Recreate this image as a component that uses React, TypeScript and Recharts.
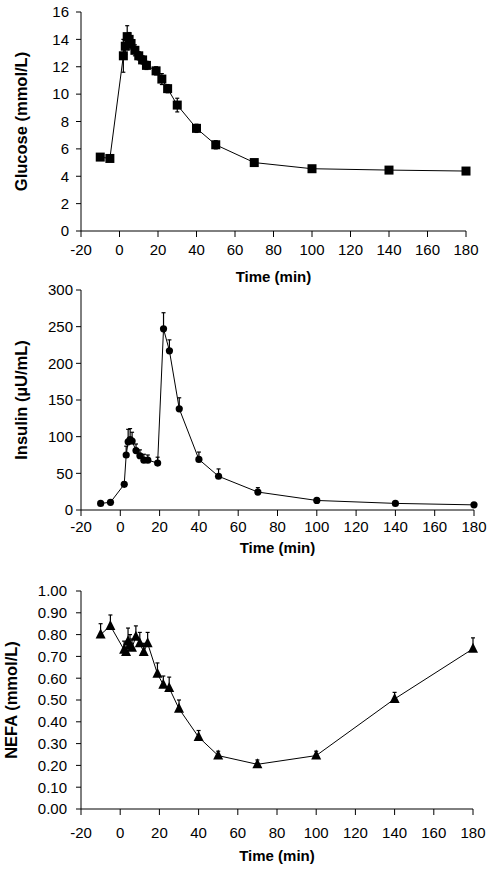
import React from "react";
import { ErrorBar, Line, LineChart, XAxis, YAxis } from "recharts";

// sampling times (min), shared by all three panels
const times = [-10, -5, 2, 3, 4, 5, 6, 8, 10, 12, 14, 19, 22, 25, 30, 40, 50, 70, 100, 140, 180];

const glucose = [5.4, 5.3, 12.8, 13.5, 14.2, 14.0, 13.7, 13.2, 12.8, 12.5, 12.1, 11.7, 11.1, 10.4, 9.2, 7.5, 6.3, 5.0, 4.55, 4.45, 4.38];
const glucoseErr = [0.2, 0.2, 1.2, 0.6, 0.8, 0.5, 0.4, 0.4, 0.3, 0.3, 0.3, 0.3, 0.4, 0.3, 0.5, 0.3, 0.3, 0.15, 0.15, 0.15, 0.2];

const insulin = [9, 10.5, 35, 75, 93, 96, 94, 81, 74, 68, 68, 64, 247, 217, 138, 69, 46, 24.5, 13, 9, 7];
const insulinErr = [1, 1, 3, 12, 17, 15, 12, 9, 8, 8, 7, 8, 22, 15, 15, 10, 10, 6, 3, 2, 2];

const nefa = [0.8, 0.84, 0.73, 0.72, 0.77, 0.75, 0.74, 0.79, 0.76, 0.72, 0.76, 0.62, 0.57, 0.555, 0.46, 0.33, 0.245, 0.205, 0.245, 0.505, 0.735];
const nefaErr = [0.05, 0.05, 0.04, 0.04, 0.06, 0.05, 0.04, 0.05, 0.05, 0.04, 0.05, 0.05, 0.04, 0.05, 0.04, 0.03, 0.02, 0.02, 0.02, 0.03, 0.05];

const timeTicks = [-20, 0, 20, 40, 60, 80, 100, 120, 140, 160, 180];
const glucoseTicks = [0, 2, 4, 6, 8, 10, 12, 14, 16];
const insulinTicks = [0, 50, 100, 150, 200, 250, 300];
const nefaTicks = [0, 0.1, 0.2, 0.3, 0.4, 0.5, 0.6, 0.7, 0.8, 0.9, 1.0];

const rows = times.map((t, i) => ({
  t,
  glucose: glucose[i],
  gErr: glucoseErr[i],
  insulin: insulin[i],
  iErr: [0, insulinErr[i]],
  nefa: nefa[i],
  nErr: [0, nefaErr[i]],
}));

const FONT = "'Liberation Sans', Arial, sans-serif";
const tick = { fill: "#000", fontSize: 15, fontFamily: FONT };
const bold = { fontWeight: "bold", fontSize: 15, fontFamily: FONT, fill: "#000" };

const Square = (p: any) =>
  p.cx == null ? <g key={p.key} /> : (
    <rect key={p.key} x={p.cx - 4.5} y={p.cy - 4.5} width={9} height={9} fill="#000" />
  );

const Dot = (p: any) =>
  p.cx == null ? <g key={p.key} /> : <circle key={p.key} cx={p.cx} cy={p.cy} r={3.6} fill="#000" />;

const Tri = (p: any) =>
  p.cx == null ? <g key={p.key} /> : (
    <polygon
      key={p.key}
      points={`${p.cx},${p.cy - 6} ${p.cx - 5},${p.cy + 4} ${p.cx + 5},${p.cy + 4}`}
      fill="#000"
    />
  );

// extra room below each svg so the axis title's descenders are not clipped
const PAD = 6;

function Panel({
  top,
  height,
  marginTop,
  right,
  xHeight,
  xTickMargin,
  yTickMargin,
  dataKey,
  errKey,
  domain,
  ticks,
  yLabel,
  labelDx,
  shape,
  fmt,
}: any) {
  return (
    <div style={{ position: "absolute", left: 0, top }}>
      <LineChart
        width={501}
        height={height + PAD}
        data={rows}
        margin={{ top: marginTop, right, left: 0, bottom: PAD }}
      >
        <XAxis
          dataKey="t"
          type="number"
          domain={[-20, 180]}
          ticks={timeTicks}
          interval={0}
          tick={tick}
          tickSize={6}
          tickMargin={xTickMargin}
          stroke="#000"
          height={xHeight}
          label={{ value: "Time (min)", position: "insideBottom", offset: 0, style: bold }}
        />
        <YAxis
          type="number"
          domain={domain}
          ticks={ticks}
          interval={0}
          tick={tick}
          tickSize={5}
          tickMargin={yTickMargin}
          tickFormatter={fmt}
          stroke="#000"
          width={81}
          label={{
            value: yLabel,
            angle: -90,
            position: "insideLeft",
            offset: 21,
            dx: labelDx,
            style: { ...bold, fontSize: 16.5, textAnchor: "middle" },
          }}
        />
        <Line
          dataKey={dataKey}
          stroke="#000"
          strokeWidth={1}
          dot={shape}
          activeDot={false}
          isAnimationActive={false}
        >
          <ErrorBar dataKey={errKey} width={2} stroke="#000" strokeWidth={1.2} direction="y" />
        </Line>
      </LineChart>
    </div>
  );
}

export default function App() {
  return (
    <div style={{ position: "absolute", left: 0, top: 0, width: 501, height: 874, background: "#fff" }}>
      <Panel
        top={0}
        height={282}
        marginTop={12}
        right={35}
        xHeight={51}
        xTickMargin={7}
        yTickMargin={7}
        dataKey="glucose"
        errKey="gErr"
        domain={[0, 16]}
        ticks={glucoseTicks}
        yLabel="Glucose (mmol/L)"
        labelDx={0}
        shape={Square}
      />
      <Panel
        top={270}
        height={283}
        marginTop={20}
        right={27}
        xHeight={43}
        xTickMargin={5}
        yTickMargin={3}
        dataKey="insulin"
        errKey="iErr"
        domain={[0, 300]}
        ticks={insulinTicks}
        yLabel="Insulin (µU/mL)"
        labelDx={0}
        shape={Dot}
      />
      <Panel
        top={560}
        height={301}
        marginTop={31}
        right={28}
        xHeight={52}
        xTickMargin={12}
        yTickMargin={9}
        dataKey="nefa"
        errKey="nErr"
        domain={[0, 1]}
        ticks={nefaTicks}
        yLabel="NEFA (mmol/L)"
        labelDx={-10}
        shape={Tri}
        fmt={(v: number) => v.toFixed(2)}
      />
    </div>
  );
}
